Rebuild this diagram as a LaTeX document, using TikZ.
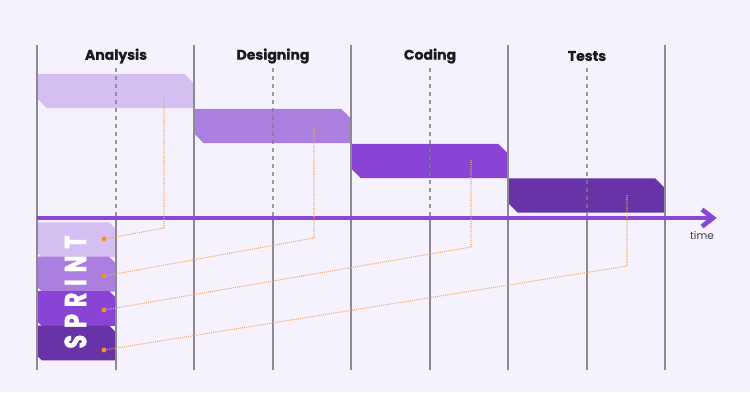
\documentclass[tikz,border=0pt]{standalone}
\usepackage{fontspec}
\setmainfont{Poppins}
\newfontfamily\sprintfont[LetterSpace=30, FakeBold=1.6]{Poppins}
\newfontfamily\headfont[FakeBold=0.8]{Poppins}
\definecolor{bg}{HTML}{F6F2FD}
\definecolor{gridc}{HTML}{8C8894}
\definecolor{dashc}{HTML}{7F7A8C}
\definecolor{cA}{HTML}{D5BEF1}
\definecolor{cB}{HTML}{AA7FE0}
\definecolor{cC}{HTML}{8944D5}
\definecolor{cD}{HTML}{6833A7}
\definecolor{axisc}{HTML}{8A46D6}
\definecolor{orng}{HTML}{F1A864}
\definecolor{dotc}{HTML}{EE922C}
\definecolor{headc}{HTML}{1A1A1F}
\tikzset{
  barbox/.style={rectangle, minimum width=157pt, minimum height=34pt, inner sep=0pt, draw=none},
  sprbox/.style={rectangle, minimum width=79pt, minimum height=34.4pt, inner sep=0pt, draw=none},
  gridline/.style={draw=gridc, line width=1.1pt},
  midline/.style={draw=dashc, line width=1.1pt, dash pattern=on 4pt off 4pt, opacity=0.75},
  conn/.style={draw=orng, line width=1.05pt, dash pattern=on 1pt off 1.1pt},
  dotn/.style={circle, fill=dotc, inner sep=0pt, minimum size=5pt},
  head/.style={font=\headfont\fontsize{14}{16}\selectfont\bfseries, text=headc},
}
% chamfered fill of a named node: #1 node, #2 colour, #3 chamfer top-right, #4 chamfer bottom-left
\newcommand{\chamfill}[4]{%
  \fill[#2] (#1.north west) -- ([xshift=-#3]#1.north east) -- ([yshift=-#3]#1.north east)
    -- (#1.south east) -- ([xshift=#4]#1.south west) -- ([yshift=#4]#1.south west) -- cycle;}
\begin{document}
\begin{tikzpicture}[x=1pt,y=-1pt]
\fill[bg] (0,0) rectangle (750,392);
\useasboundingbox (0,0) rectangle (750,392);

% bars
\node[barbox] (bar1) at (115.5,91) {};
\node[barbox] (bar2) at (272.5,126) {};
\node[barbox] (bar3) at (429.5,161) {};
\node[barbox] (bar4) at (586.5,195.5) {};
\chamfill{bar1}{cA}{10pt}{10pt}
\chamfill{bar2}{cB}{10pt}{10pt}
\chamfill{bar3}{cC}{10pt}{10pt}
\chamfill{bar4}{cD}{10pt}{10pt}

% sprint boxes
\node[sprbox] (sp1) at (76.5,239.7) {};
\node[sprbox] (sp2) at (76.5,274.1) {};
\node[sprbox] (sp3) at (76.5,308.5) {};
\node[sprbox] (sp4) at (76.5,342.9) {};
\chamfill{sp1}{cA}{7pt}{5pt}
\chamfill{sp2}{cB}{7pt}{5pt}
\chamfill{sp3}{cC}{7pt}{5pt}
\chamfill{sp4}{cD}{7pt}{5pt}

% grid
\foreach \x [count=\i] in {37,194,351,508,665} {
  \coordinate (gt\i) at (\x,45);
  \coordinate (gb\i) at (\x,370);
  \draw[gridline] (gt\i) -- (gb\i);
}
\foreach \x [count=\i] in {116,273,430,587} {
  \coordinate (mt\i) at (\x,68);
  \coordinate (mm\i) at (\x,216);
  \coordinate (mb\i) at (\x,370);
  \draw[midline] (mt\i) -- (mm\i);
  \draw[gridline] (mm\i) -- (mb\i);
}

% headings
\node[head] (h1) at (116,56) {Analysis};
\node[head] (h2) at (273,56) {Designing};
\node[head] (h3) at (430,56) {Coding};
\node[head] (h4) at (587,56) {Tests};

% axis
\coordinate (a0) at (37,218);
\coordinate (a1) at (713,218);
\coordinate (ah1) at (702,209.5);
\coordinate (ah2) at (702,226.5);
\draw[axisc, line width=4.6pt] (a0) -- (a1);
\draw[axisc, line width=4.6pt, line join=miter, line cap=butt] (ah1) -- (a1) -- (ah2);
\node[font=\fontsize{10.5}{12}\selectfont, text=black!75] (tl) at (702,236) {time};

% SPRINT label
\node[rotate=90, text=white, inner sep=0pt] (spr) at (75.5,292)
  {\scalebox{1}[1.35]{\sprintfont\bfseries\fontsize{22.5}{24}\selectfont SPRINT}};

% dots
\node[dotn] (d1) at (104,239) {};
\node[dotn] (d2) at (104,276) {};
\node[dotn] (d3) at (104,310) {};
\node[dotn] (d4) at (104,350) {};

% connectors
\coordinate (s1) at (164,97);  \coordinate (k1) at (164,228);
\coordinate (s2) at (314,128); \coordinate (k2) at (314,238);
\coordinate (s3) at (471,160); \coordinate (k3) at (471,247);
\coordinate (s4) at (627,195); \coordinate (k4) at (627,266);
\draw[conn] (s1) -- (k1) -- (d1);
\draw[conn] (s2) -- (k2) -- (d2);
\draw[conn] (s3) -- (k3) -- (d3);
\draw[conn] (s4) -- (k4) -- (d4);
\end{tikzpicture}
\end{document}
